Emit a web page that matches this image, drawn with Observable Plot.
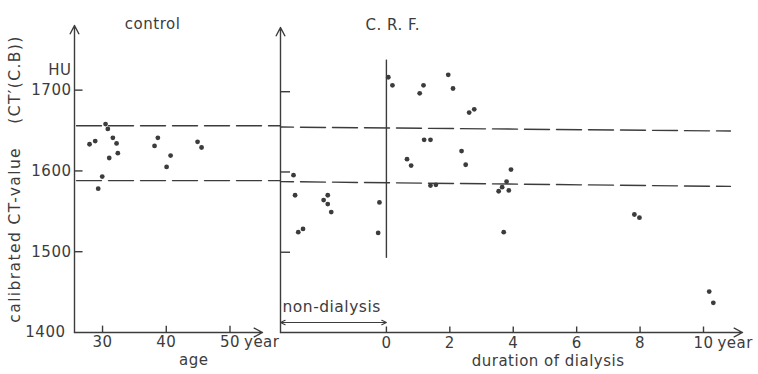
<!DOCTYPE html>
<html><head><meta charset="utf-8">
<script src="https://cdn.jsdelivr.net/npm/d3@7"></script>
<script src="https://cdn.jsdelivr.net/npm/@observablehq/plot@0.6"></script>
<style>
html,body{margin:0;padding:0;background:#fff;}
#chart{position:relative;width:758px;height:374px;overflow:hidden;background:#fff;}
#chart svg{position:absolute;top:0;}
#chart text{letter-spacing:0.5px;}
#chart text[transform*="rotate"]{letter-spacing:1.4px;}
</style></head><body><div id="chart"></div>
<script>
// ---- data ----
const controlAge = [27.96, 28.85, 30.47, 30.83, 31.62, 32.20, 32.40, 31.05, 29.95, 29.32, 38.16, 38.68, 40.68, 40.05, 44.91, 45.54];
const controlCT  = [1633, 1637, 1658, 1652, 1641, 1634, 1622, 1616, 1593, 1578, 1631, 1641, 1619, 1605, 1636, 1629];

const nonDialX  = [-2.93, -2.88, -2.78, -2.63, -1.98, -1.85, -1.85, -1.74, -0.22, -0.26];
const nonDialCT = [1596, 1571, 1525, 1529, 1565, 1571, 1560, 1550, 1562, 1524];

const dialYears = [0.06, 0.19, 0.65, 0.78, 1.05, 1.17, 1.19, 1.39, 1.39, 1.56, 1.95, 2.10, 2.37, 2.50, 2.61, 2.77, 3.93, 3.79, 3.65, 3.54, 3.86, 3.70, 7.82, 7.98, 10.18, 10.31];
const dialCT    = [1718, 1708, 1616, 1608, 1698, 1708, 1640, 1640, 1583, 1584, 1721, 1704, 1626, 1609, 1674, 1678, 1603, 1588, 1581, 1576, 1577, 1525, 1547, 1543, 1451, 1437];

// normal range (dashed lines), start/end values
const refUpperLeft  = [1656, 1656];
const refLowerLeft  = [1588, 1588];
const refUpperRight = [1656, 1651];
const refLowerRight = [1588, 1582];
const refXLeft  = [25.6, 57.9];
const refXRight = [-3.34, 10.85];

// dialysis start line extent
const dialStartLine = [1493, 1740];

const yTicksLeft  = [1500, 1600, 1700];
const yTicksRight = [1500, 1600, 1700];
const xTicksLeft  = [30, 40, 50];
const xTicksRight = [0, 2, 4, 6, 8, 10];
const yDomain = [1400, 1780];
const xDomLeft = [25.6, 55.1];
const xDomRight = [-3.34, 11.23];

const ink = "#3c3c3c";
const font = "DejaVu Sans";
const sw = 1.4;
const head = {headLength: 10, headAngle: 55, stroke: ink, strokeWidth: sw};

const pairs = (xs, ys) => xs.map((x, i) => ({x, y: ys[i]}));

// ---- left panel: control ----
const left = Plot.plot({
  width: 280, height: 374,
  marginLeft: 74, marginRight: 18, marginTop: 25, marginBottom: 42,
  x: {domain: xDomLeft, axis: null},
  y: {domain: yDomain, axis: null},
  style: {fontFamily: font, fontSize: "15px", color: ink, background: "none", overflow: "visible"},
  marks: [
    Plot.line(pairs(refXLeft, refUpperLeft), {x: "x", y: "y", stroke: ink, strokeWidth: sw, strokeDasharray: "25,7", strokeDashoffset: -2}),
    Plot.line(pairs(refXLeft, refLowerLeft), {x: "x", y: "y", stroke: ink, strokeWidth: sw, strokeDasharray: "25,7", strokeDashoffset: -2}),
    // axes
    Plot.arrow([0], {x1: xDomLeft[0], x2: xDomLeft[0], y1: yDomain[0], y2: yDomain[1], ...head}),
    Plot.arrow([0], {x1: xDomLeft[0], x2: xDomLeft[1], y1: yDomain[0], y2: yDomain[0], ...head}),
    Plot.link(yTicksLeft, {x1: xDomLeft[0], x2: xDomLeft[0] + 1.26, y1: d => d, y2: d => d, stroke: ink, strokeWidth: sw}),
    Plot.link(xTicksLeft, {x1: d => d, x2: d => d, y1: yDomain[0], y2: yDomain[0] + 8.5, stroke: ink, strokeWidth: sw}),
    Plot.text(yTicksLeft, {x: xDomLeft[0], y: d => d, text: d => String(d), dx: -3, textAnchor: "end", fill: ink, fontSize: 15}),
    Plot.text([1400], {x: xDomLeft[0], y: d => d, text: d => String(d), dx: -9, textAnchor: "end", fill: ink, fontSize: 15}),
    Plot.text(["HU"], {x: xDomLeft[0], y: 1700, dx: -3, dy: -20, textAnchor: "end", fill: ink, fontSize: 15}),
    Plot.text(xTicksLeft, {x: d => d, text: d => String(d), frameAnchor: "bottom", dy: 14, fill: ink, fontSize: 15}),
    Plot.text([xTicksLeft[xTicksLeft.length - 1]], {x: d => d, text: () => "year", frameAnchor: "bottom", dy: 14, dx: 14, textAnchor: "start", fill: ink, fontSize: 15}),
    Plot.text([{x: 44.3, t: "age"}], {x: "x", text: "t", frameAnchor: "bottom", dy: 32, fill: ink, fontSize: 15}),
    Plot.text([{x: 37.85, t: "control"}], {x: "x", text: "t", frameAnchor: "top", dy: -7, fill: ink, fontSize: 15}),
    Plot.text(["calibrated CT-value \u2003(CT\u2032(C.B))"], {frameAnchor: "left", textAnchor: "middle", rotate: -90, dx: -59, dy: 0, fill: ink, fontSize: 15.5}),
    // data
    Plot.dot(pairs(controlAge, controlCT), {x: "x", y: "y", r: 2.4, fill: ink, stroke: "none"})
  ]
});
left.style.left = "0px";

// ---- right panel: C.R.F. ----
const right = Plot.plot({
  width: 488, height: 374,
  marginLeft: 10, marginRight: 16, marginTop: 27, marginBottom: 42,
  x: {domain: xDomRight, axis: null},
  y: {domain: yDomain, axis: null},
  style: {fontFamily: font, fontSize: "15px", color: ink, background: "none", overflow: "visible"},
  marks: [
    Plot.line(pairs(refXRight, refUpperRight), {x: "x", y: "y", stroke: ink, strokeWidth: sw, strokeDasharray: "25,7", strokeDashoffset: -20}),
    Plot.line(pairs(refXRight, refLowerRight), {x: "x", y: "y", stroke: ink, strokeWidth: sw, strokeDasharray: "25,7", strokeDashoffset: -20}),
    Plot.link([0], {x1: 0, x2: 0, y1: dialStartLine[0], y2: dialStartLine[1], stroke: ink, strokeWidth: sw}),
    // axes
    Plot.arrow([0], {x1: xDomRight[0], x2: xDomRight[0], y1: yDomain[0], y2: yDomain[1], ...head}),
    Plot.arrow([0], {x1: xDomRight[0], x2: xDomRight[1], y1: yDomain[0], y2: yDomain[0], ...head}),
    Plot.link(yTicksRight, {x1: xDomRight[0], x2: xDomRight[0] + 0.3, y1: d => d, y2: d => d, stroke: ink, strokeWidth: sw}),
    Plot.link(xTicksRight, {x1: d => d, x2: d => d, y1: yDomain[0], y2: yDomain[0] + 7.5, stroke: ink, strokeWidth: sw}),
    Plot.text(xTicksRight, {x: d => d, text: d => String(d), frameAnchor: "bottom", dy: 15, fill: ink, fontSize: 15}),
    Plot.text([xTicksRight[xTicksRight.length - 1]], {x: d => d, text: () => "year", frameAnchor: "bottom", dy: 15, dx: 14, textAnchor: "start", fill: ink, fontSize: 15}),
    Plot.text([{x: 5.1, t: "duration of dialysis"}], {x: "x", text: "t", frameAnchor: "bottom", dy: 33, fill: ink, fontSize: 15}),
    Plot.text([{x: 0.2, t: "C. R. F."}], {x: "x", text: "t", frameAnchor: "top", dy: -8, fill: ink, fontSize: 15}),
    // non-dialysis span (double-headed arrow)
    Plot.arrow([0], {x1: -1.67, x2: xDomRight[0], y1: yDomain[0], y2: yDomain[0], dy: -10, headLength: 7, headAngle: 50, stroke: ink, strokeWidth: 1.1}),
    Plot.arrow([0], {x1: -1.67, x2: 0, y1: yDomain[0], y2: yDomain[0], dy: -10, headLength: 7, headAngle: 50, stroke: ink, strokeWidth: 1.1}),
    Plot.text([{x: xDomRight[0], t: "non-dialysis"}], {x: "x", text: "t", frameAnchor: "bottom", dy: -21, dx: 2, textAnchor: "start", fill: ink, fontSize: 15.5}),
    // data
    Plot.dot(pairs(nonDialX, nonDialCT), {x: "x", y: "y", r: 2.4, fill: ink, stroke: "none"}),
    Plot.dot(pairs(dialYears, dialCT), {x: "x", y: "y", r: 2.4, fill: ink, stroke: "none"})
  ]
});
right.style.left = "270px";

const chart = document.getElementById("chart");
chart.appendChild(left);
chart.appendChild(right);
</script>
</body></html>
